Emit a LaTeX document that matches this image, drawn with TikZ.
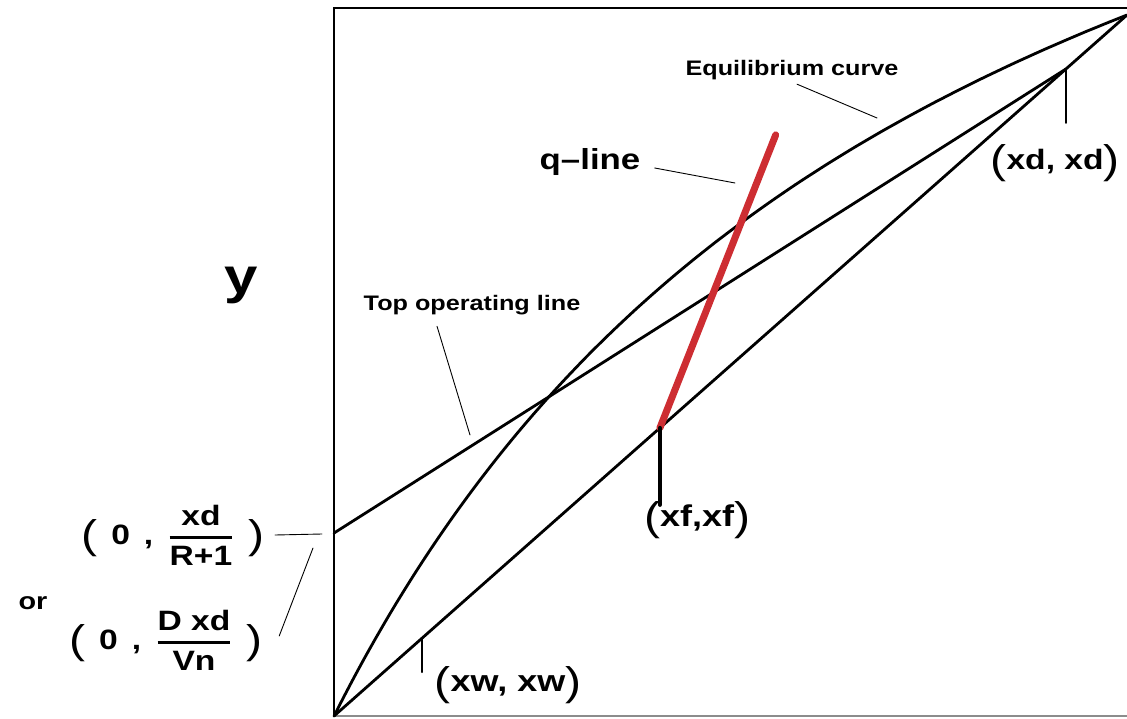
\documentclass[tikz,border=0pt]{standalone}
\usepackage{amsmath}
\usepackage{fontspec}
\setmainfont{Liberation Sans}[FakeStretch=1.2]
\usetikzlibrary{calc}
\definecolor{qred}{RGB}{205,45,50}
% tall light brackets round the point labels
\newcommand{\lpar}{{\mdseries\fontsize{20}{20}\selectfont\raisebox{-2pt}{(}}}
\newcommand{\rpar}{{\mdseries\fontsize{20}{20}\selectfont\raisebox{-2pt}{)}}}

\begin{document}
\begin{tikzpicture}[x=0.5pt, y=0.5pt, line cap=round,
  curve/.style={line width=1.4pt},
  lead/.style={line width=0.45pt},
  tick/.style={line width=1pt},
  lbl/.style={font=\bfseries\fontsize{10.5}{12}\selectfont, inner sep=1pt},
  pt/.style={font=\bfseries\fontsize{15}{18}\selectfont, inner sep=1pt},
  frc/.style={font=\bfseries\fontsize{14}{16}\selectfont, inner sep=1pt}]

\useasboundingbox (0,0) rectangle (1127,718);

% axes box (right side runs off the page)
\draw[line width=1pt] (334,2) -- (334,710) -- (1140,710);
\draw[line width=0.6pt, black!45] (334,2) -- (1140,2);

\begin{scope}[shift={(334,2)}, x=396.5pt, y=350.5pt]
  \coordinate (O)    at (0,0);
  \coordinate (C)    at (1,1);
  \coordinate (xw)   at (0.111,0.111);
  \coordinate (xf)   at (0.411,0.411);
  \coordinate (xd)   at (0.923,0.923);
  \coordinate (yint) at (0,0.261);
  \coordinate (qtop) at (0.557,0.829);

  \draw[curve] plot[domain=0:1, samples=80, smooth] (\x,{2.25*\x/(1+1.25*\x)});
  \draw[curve] (O) -- (C);
  \draw[curve] (yint) -- (xd);
  \draw[line width=3.5pt, qred] (xf) -- (qtop);

  \draw[tick] (xw) -- ++(0,-17pt);
  \draw[line width=2pt] (xf) -- ++(0,-38.5pt);
  \draw[tick] (xd) -- ++(0,-27pt);
\end{scope}

\node[lbl] (eqlbl)  at (792,648) {Equilibrium curve};
\node[lbl] (toplbl) at (472,413) {Top operating line};
\node[font=\bfseries\fontsize{14.5}{16}\selectfont, inner sep=1pt] (qlbl) at (590,556) {q--line};
\node[font=\bfseries\fontsize{25}{28}\selectfont] (ylbl) at (241,433) {y};

\node[pt, anchor=east, font=\bfseries\fontsize{14}{18}\selectfont] (xdlbl) at (1122,555) {\lpar xd, xd\rpar};
\node[pt] (xflbl) at (697,198) {\lpar xf,xf\rpar};
\node[pt] (xwlbl) at (508,33) {\lpar xw, xw\rpar};

\node[frc] (int1) at (173,183)
  {\lpar\enspace0\enspace,\enspace$\genfrac{}{}{1.2pt}{0}{\textbf{xd}}{\textbf{R+1}}$\enspace\rpar};
\node[frc] (int2) at (166,78)
  {\lpar\enspace0\enspace,\enspace$\genfrac{}{}{1.2pt}{0}{\textbf{D xd}}{\textbf{Vn}}$\enspace\rpar};
\node[font=\bfseries\fontsize{12}{14}\selectfont] (orlbl) at (33,115) {or};

% leaders
\coordinate (eqpt)  at (877,600);
\coordinate (qpt)   at (735,535);
\coordinate (toppt) at (470,283);
\coordinate (i1pt)  at (322,184);
\coordinate (i2pt)  at (313,170);
\draw[lead] ([shift={(5,-2)}]eqlbl.south) -- (eqpt);
\draw[lead] ([shift={(12,-6)}]qlbl.east) -- (qpt);
\draw[lead] ([shift={(-35,-9)}]toplbl.south) -- (toppt);
\draw[lead] ([shift={(8,0)}]int1.east) -- (i1pt);
\draw[lead] ([shift={(14,4)}]int2.east) -- (i2pt);

\end{tikzpicture}
\end{document}
